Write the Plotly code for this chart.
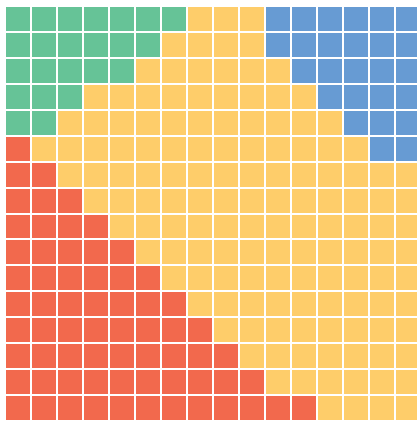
import plotly.graph_objects as go

n_rows = 16
n_cols = 16
categories = ["Green", "Yellow", "Blue", "Red"]
colors = ["#66C397", "#FECD6A", "#679BD3", "#F2694D"]
# cells per row (top to bottom)
green_left = [7, 6, 5, 3, 2, 0, 0, 0, 0, 0, 0, 0, 0, 0, 0, 0]
red_left = [0, 0, 0, 0, 0, 1, 2, 3, 4, 5, 6, 7, 8, 9, 10, 12]
blue_right = [6, 6, 5, 4, 3, 2, 0, 0, 0, 0, 0, 0, 0, 0, 0, 0]

z = []
for r in range(n_rows):
    row = []
    for c in range(n_cols):
        if c < green_left[r]:
            v = 0
        elif c < red_left[r]:
            v = 3
        elif c >= n_cols - blue_right[r]:
            v = 2
        else:
            v = 1
        row.append(v)
    z.append(row)

cs = []
for i, col in enumerate(colors):
    cs.append([i / 4, col])
    cs.append([(i + 1) / 4, col])

fig = go.Figure(go.Heatmap(
    z=z, x=list(range(n_cols)), y=list(range(n_rows)),
    colorscale=cs, zmin=-0.5, zmax=3.5, showscale=False,
    xgap=2, ygap=2, hoverinfo="skip"))
fig.update_layout(
    width=417, height=421,
    margin=dict(l=5, r=0, t=6, b=0),
    paper_bgcolor="white", plot_bgcolor="white",
    xaxis=dict(visible=False, range=[-0.5, 15.35]),
    yaxis=dict(visible=False, range=[15.5, -0.5]),
)
fig.write_html(
    "out.html",
    config={"displayModeBar": False},
    post_script="document.body.style.margin='0';document.body.style.overflow='hidden';",
)
